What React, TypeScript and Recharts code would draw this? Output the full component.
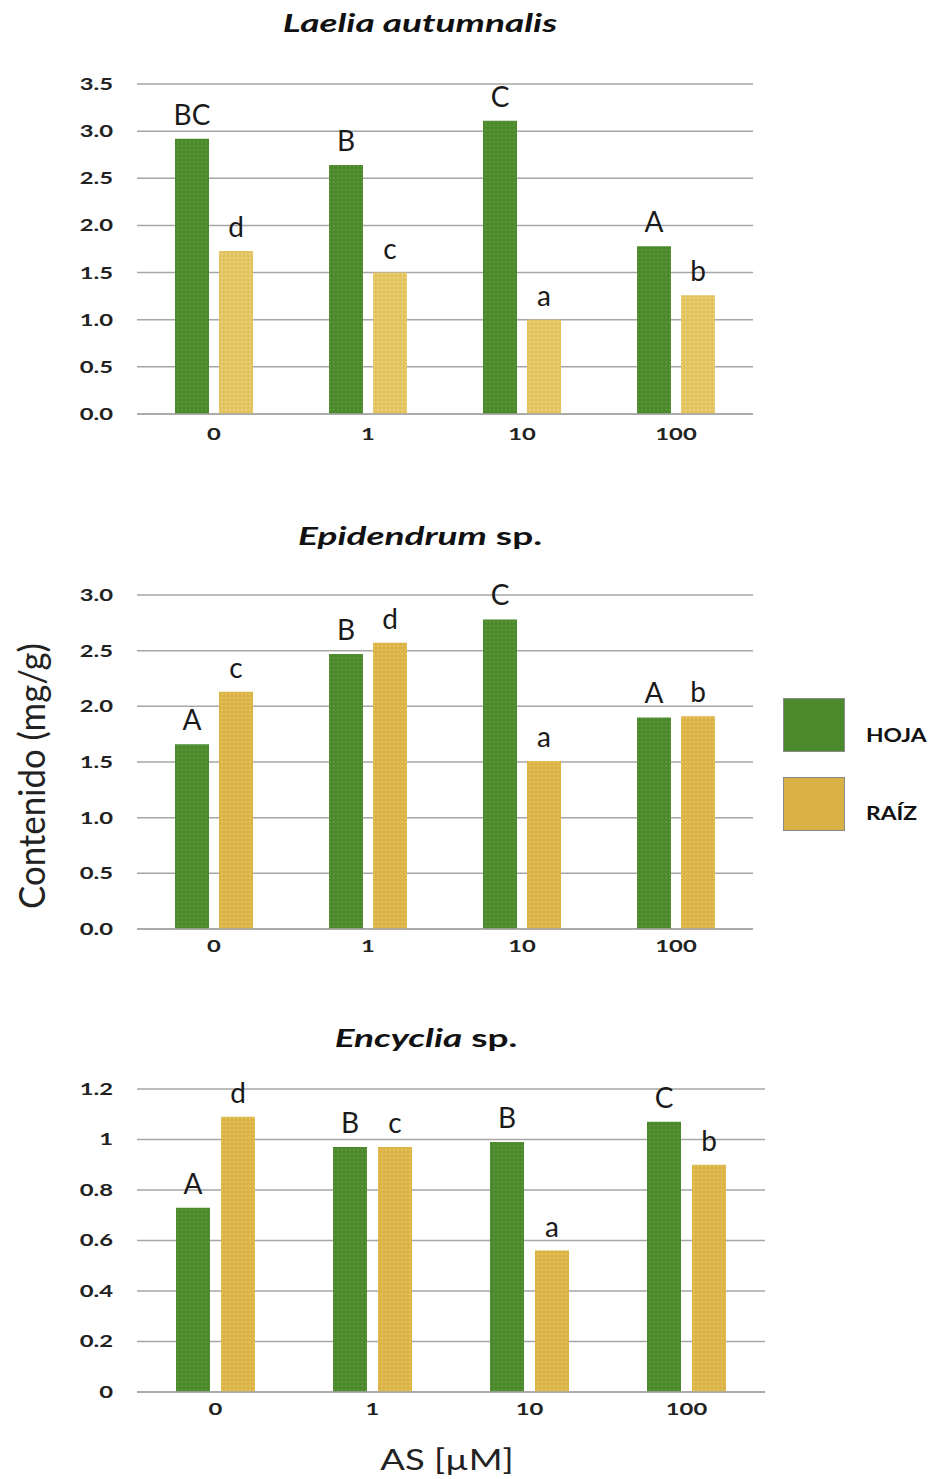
import React from "react";
import { BarChart, Bar, XAxis, YAxis, CartesianGrid, LabelList } from "recharts";

const doses = ["0", "1", "10", "100"];

const laeliaHoja = [2.92, 2.64, 3.11, 1.78];
const laeliaRaiz = [1.73, 1.5, 1.0, 1.26];
const laeliaHojaLbl = ["BC", "B", "C", "A"];
const laeliaRaizLbl = ["d", "c", "a", "b"];
const laeliaTicks = [0, 0.5, 1, 1.5, 2, 2.5, 3, 3.5];

const epiHoja = [1.66, 2.47, 2.78, 1.9];
const epiRaiz = [2.13, 2.57, 1.51, 1.91];
const epiHojaLbl = ["A", "B", "C", "A"];
const epiRaizLbl = ["c", "d", "a", "b"];
const epiTicks = [0, 0.5, 1, 1.5, 2, 2.5, 3];

const encHoja = [0.73, 0.97, 0.99, 1.07];
const encRaiz = [1.09, 0.97, 0.56, 0.9];
const encHojaLbl = ["A", "B", "B", "C"];
const encRaizLbl = ["d", "c", "a", "b"];
const encTicks = [0, 0.2, 0.4, 0.6, 0.8, 1, 1.2];

const FONT = "Lato, 'Open Sans', sans-serif";
const GREEN = "#4b892c";
const YELLOW = "#dcb445";
// the source figure is stretched sideways, text is widened to match
const STRETCH = 1.4;

const buildRows = (h: number[], r: number[], hl: string[], rl: string[]) =>
  doses.map((d, i) => ({ dose: d, hoja: h[i], raiz: r[i], hojaLbl: hl[i], raizLbl: rl[i] }));

const labelStyle = { fontSize: 28, fontFamily: FONT, fill: "#1a1a1a" };
const tickText = { fontSize: 17, fontWeight: 700, fontFamily: FONT, fill: "#222" };

const YTick = ({ x, y, payload, fmt }: any) => (
  <text transform={`translate(${x},${y}) scale(${STRETCH},1)`} textAnchor="end" dy="0.35em" style={tickText}>
    {fmt(payload.value)}
  </text>
);

const XTick = ({ x, y, payload }: any) => (
  <text transform={`translate(${x},${y}) scale(${STRETCH},1)`} textAnchor="middle" dy="0.71em" style={tickText}>
    {payload.value}
  </text>
);

interface PanelProps {
  rows: ReturnType<typeof buildRows>;
  ticks: number[];
  fmt: (v: number) => string;
  top: number;
  height: number;
  marginTop: number;
  right: number;
  gap: number;
  xMargin: number;
  hojaFill: string;
  raizFill: string;
}

function Panel({ rows, ticks, fmt, top, height, marginTop, right, gap, xMargin, hojaFill, raizFill }: PanelProps) {
  return (
    <div style={{ position: "absolute", left: 0, top }}>
      <BarChart
        width={932}
        height={height}
        data={rows}
        margin={{ top: marginTop, right, bottom: 16, left: 77 }}
        barSize={34}
        barGap={gap}
      >
        <CartesianGrid vertical={false} stroke="#a6a6a6" strokeWidth={1.5} />
        <XAxis
          dataKey="dose"
          axisLine={{ stroke: "#a6a6a6", strokeWidth: 1.5 }}
          tickLine={false}
          tickSize={0}
          tickMargin={xMargin}
          height={30}
          tick={<XTick />}
        />
        <YAxis
          domain={[0, ticks[ticks.length - 1]]}
          ticks={ticks}
          axisLine={false}
          tickLine={false}
          tickSize={0}
          tickMargin={24}
          width={60}
          interval={0}
          tick={<YTick fmt={fmt} />}
        />
        <Bar dataKey="hoja" fill={hojaFill} isAnimationActive={false}>
          <LabelList dataKey="hojaLbl" position="top" offset={14} style={labelStyle} />
        </Bar>
        <Bar dataKey="raiz" fill={raizFill} isAnimationActive={false}>
          <LabelList dataKey="raizLbl" position="top" offset={14} style={labelStyle} />
        </Bar>
      </BarChart>
    </div>
  );
}

const Title = ({ top, center, italic, rest }: { top: number; center: number; italic: string; rest?: string }) => (
  <div
    style={{
      position: "absolute",
      left: center - 300,
      width: 600,
      top,
      textAlign: "center",
      fontFamily: FONT,
      fontWeight: 700,
      fontSize: 25,
      color: "#111",
      transform: "scaleX(1.48)",
    }}
  >
    <i>{italic}</i>
    {rest ? <span>{rest}</span> : null}
  </div>
);

export default function App() {
  return (
    <div style={{ position: "absolute", left: 0, top: 0, width: 932, height: 1479, background: "#fff" }}>
      <svg width={0} height={0} style={{ position: "absolute" }}>
        <defs>
          <pattern id="dotG" width={4} height={4} patternUnits="userSpaceOnUse">
            <rect width={4} height={4} fill={GREEN} />
            <circle cx={2} cy={2} r={0.7} fill="#73aa52" />
          </pattern>
          <pattern id="dotY" width={4} height={4} patternUnits="userSpaceOnUse">
            <rect width={4} height={4} fill={YELLOW} />
            <circle cx={2} cy={2} r={0.7} fill="#efd88a" />
          </pattern>
          <pattern id="dotY1" width={4} height={4} patternUnits="userSpaceOnUse">
            <rect width={4} height={4} fill="#e3c35e" />
            <circle cx={2} cy={2} r={0.8} fill="#f3e2a2" />
          </pattern>
        </defs>
      </svg>

      <Title top={7} center={420} italic="Laelia autumnalis" />
      <Title top={520} center={420} italic="Epidendrum" rest=" sp." />
      <Title top={1022} center={426} italic="Encyclia" rest=" sp." />

      <Panel
        rows={buildRows(laeliaHoja, laeliaRaiz, laeliaHojaLbl, laeliaRaizLbl)}
        ticks={laeliaTicks}
        fmt={(v) => v.toFixed(1)}
        top={0}
        height={460}
        marginTop={84}
        right={179}
        gap={10}
        xMargin={14}
        hojaFill="url(#dotG)"
        raizFill="url(#dotY1)"
      />
      <Panel
        rows={buildRows(epiHoja, epiRaiz, epiHojaLbl, epiRaizLbl)}
        ticks={epiTicks}
        fmt={(v) => v.toFixed(1)}
        top={500}
        height={475}
        marginTop={95}
        right={179}
        gap={10}
        xMargin={11}
        hojaFill="url(#dotG)"
        raizFill="url(#dotY)"
      />
      <Panel
        rows={buildRows(encHoja, encRaiz, encHojaLbl, encRaizLbl)}
        ticks={encTicks}
        fmt={(v) => String(v)}
        top={1060}
        height={378}
        marginTop={29}
        right={167}
        gap={11}
        xMargin={11}
        hojaFill="url(#dotG)"
        raizFill="url(#dotY)"
      />

      <div
        style={{
          position: "absolute",
          left: 31 - 150,
          top: 776 - 18,
          width: 300,
          height: 36,
          lineHeight: "36px",
          textAlign: "center",
          transform: "rotate(-90deg) scale(1.2, 1.25)",
          fontFamily: FONT,
          fontSize: 29,
          color: "#222",
        }}
      >
        Contenido (mg/g)
      </div>
      <div
        style={{
          position: "absolute",
          left: 447 - 150,
          top: 1442,
          width: 300,
          textAlign: "center",
          fontFamily: FONT,
          fontSize: 28,
          color: "#222",
          transform: "scaleX(1.3)",
        }}
      >
        AS [µM]
      </div>

      <div style={{ position: "absolute", left: 783, top: 698, width: 62, height: 54, background: GREEN, border: "1px solid #8a8a8a", boxSizing: "border-box" }} />
      <div style={{ position: "absolute", left: 866, top: 723, fontFamily: FONT, fontWeight: 700, fontSize: 19, color: "#111", transform: "scaleX(1.2)", transformOrigin: "left center" }}>HOJA</div>
      <div style={{ position: "absolute", left: 783, top: 777, width: 62, height: 54, background: "#d9b043", border: "1px solid #8a8a8a", boxSizing: "border-box" }} />
      <div style={{ position: "absolute", left: 866, top: 801, fontFamily: FONT, fontWeight: 700, fontSize: 19, color: "#111", transform: "scaleX(1.2)", transformOrigin: "left center" }}>RAÍZ</div>
    </div>
  );
}
